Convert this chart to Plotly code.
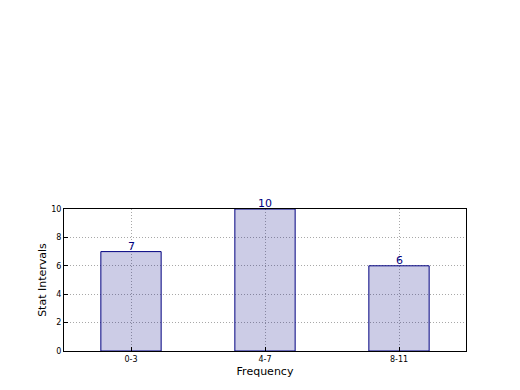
import plotly.graph_objects as go

categories = ["0-3", "4-7", "8-11"]
values = [7, 10, 6]
y_ticks = [0, 2, 4, 6, 8, 10]

fig = go.Figure()
fig.add_trace(go.Bar(
    x=list(range(len(categories))),
    y=values,
    width=0.45,
    marker=dict(color="rgba(0,0,128,0.2)", line=dict(color="#000080", width=1)),
))

for i, v in enumerate(values):
    fig.add_annotation(
        x=i, y=v, text=str(v), showarrow=False,
        xanchor="center", yanchor="bottom", yshift=-3,
        font=dict(color="#000080", size=11, family="DejaVu Sans"),
    )

axis_common = dict(
    showline=True, linecolor="black", linewidth=1, mirror=True,
    showgrid=True, gridcolor="#a8a8a8", griddash="1px,2px", gridwidth=1,
    ticks="inside", ticklen=4, tickcolor="black", zeroline=False,
    tickfont=dict(size=8, family="DejaVu Sans", color="black"),
)

fig.update_layout(
    width=520, height=390,
    margin=dict(l=56, r=62, t=201, b=47),
    paper_bgcolor="white", plot_bgcolor="white",
    showlegend=False,
    font=dict(family="DejaVu Sans", color="black"),
    xaxis=dict(
        **axis_common,
        range=[-0.5, 2.5],
        tickmode="array",
        tickvals=list(range(len(categories))),
        ticktext=categories,
        title=dict(text="Frequency", font=dict(size=11), standoff=4),
    ),
    yaxis=dict(
        **axis_common,
        range=[0, 10],
        tickmode="array",
        tickvals=y_ticks,
        title=dict(text="Stat Intervals", font=dict(size=11), standoff=2),
    ),
)

fig.write_html("out.html")
